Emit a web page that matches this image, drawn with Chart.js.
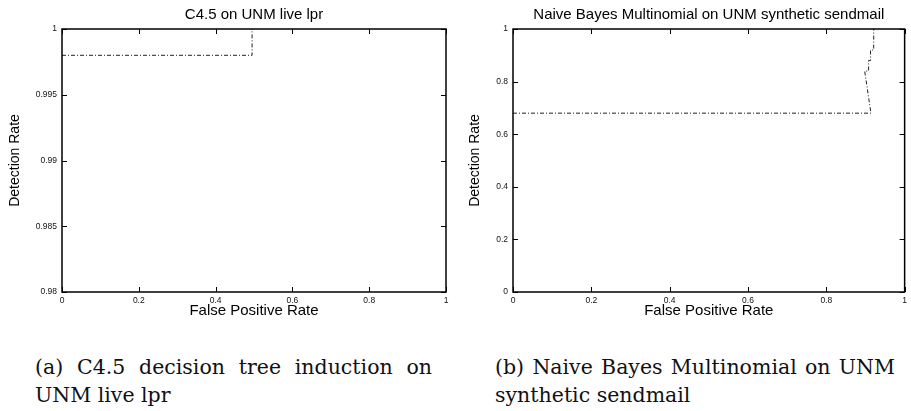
<!DOCTYPE html>
<html><head><meta charset="utf-8">
<script src="https://cdn.jsdelivr.net/npm/chart.js@4"></script>
<style>
html,body{margin:0;padding:0;background:#fff;width:911px;height:411px;overflow:hidden}
.c{position:absolute;top:0}
.cap{position:absolute;font-family:"DejaVu Serif",serif;font-size:20.5px;line-height:27.7px;color:#111;white-space:nowrap}
.j{text-align:justify;text-align-last:justify;white-space:normal}
</style></head><body>
<div class="c" style="left:0;width:455px;height:320px"><canvas id="a" width="455" height="320"></canvas></div>
<div class="c" style="left:455px;width:456px;height:320px"><canvas id="b" width="456" height="320"></canvas></div>
<div class="cap j" style="left:35px;top:354px;width:397px">(a) C4.5 decision tree induction on</div>
<div class="cap" style="left:35px;top:381.7px">UNM live lpr</div>
<div class="cap j" style="left:495px;top:354px;width:400px">(b) Naive Bayes Multinomial on UNM</div>
<div class="cap" style="left:495px;top:381.7px">synthetic sendmail</div>
<script>
// ---- data ----
const xTicks = [0, 0.2, 0.4, 0.6, 0.8, 1];
const xTickLabels = ['0', '0.2', '0.4', '0.6', '0.8', '1'];

const titleA = 'C4.5 on UNM live lpr';
const fprA = [0, 0.495, 0.495];
const tprA = [0.998, 0.998, 1.0];
const yTicksA = [0.98, 0.985, 0.99, 0.995, 1];
const yTickLabelsA = ['0.98', '0.985', '0.99', '0.995', '1'];

const titleB = 'Naive Bayes Multinomial on UNM synthetic sendmail';
const fprB = [0, 0.914, 0.898, 0.908, 0.908, 0.913, 0.913, 0.921, 0.921];
const tprB = [0.68, 0.68, 0.84, 0.84, 0.88, 0.88, 0.92, 0.92, 1.0];
const yTicksB = [0, 0.2, 0.4, 0.6, 0.8, 1];
const yTickLabelsB = ['0', '0.2', '0.4', '0.6', '0.8', '1'];

Chart.defaults.font.family = '"Liberation Sans", Arial, sans-serif';
Chart.defaults.color = '#000';

const frame = {
  id: 'frame',
  afterDatasetsDraw(chart, args, opts) {
    const {ctx, chartArea: a, scales: {x, y}} = chart;
    ctx.save();
    ctx.strokeStyle = '#000';
    ctx.lineWidth = 1;
    ctx.beginPath();
    x.ticks.forEach(t => {
      const p = Math.round(x.getPixelForValue(t.value)) + 0.5;
      ctx.moveTo(p, a.bottom); ctx.lineTo(p, a.bottom - 5);
      ctx.moveTo(p, a.top); ctx.lineTo(p, a.top + 5);
    });
    y.ticks.forEach(t => {
      const p = Math.round(y.getPixelForValue(t.value)) + 0.5;
      ctx.moveTo(a.left, p); ctx.lineTo(a.left + 5, p);
      ctx.moveTo(a.right, p); ctx.lineTo(a.right - 5, p);
    });
    ctx.stroke();
    ctx.lineWidth = 1.5;
    ctx.strokeRect(a.left, a.top, a.right - a.left, a.bottom - a.top);
    // plot title centred over the plot area
    ctx.fillStyle = '#000';
    ctx.font = '15px "Liberation Sans", Arial, sans-serif';
    ctx.textAlign = 'center';
    ctx.textBaseline = 'alphabetic';
    ctx.fillText(opts.text, (a.left + a.right) / 2, 18.5);
    ctx.restore();
  }
};

function make(id, title, xs, ys, yTicks, yLabels, yMin, yMax, yW, rightPad, yTitlePad) {
  new Chart(document.getElementById(id), {
    type: 'scatter',
    data: {
      datasets: [{
        data: xs.map((v, i) => ({x: v, y: ys[i]})),
        showLine: true,
        pointRadius: 0,
        borderColor: '#222',
        borderWidth: 1,
        borderDash: [4, 2, 1, 2]
      }]
    },
    options: {
      responsive: false,
      animation: false,
      layout: {padding: {left: 0, right: rightPad, top: 29, bottom: 0}},
      plugins: {
        legend: {display: false},
        tooltip: {enabled: false},
        title: {display: false},
        frame: {text: title}
      },
      scales: {
        x: {
          type: 'linear', min: 0, max: 1,
          afterBuildTicks: s => { s.ticks = xTicks.map(v => ({value: v})); },
          afterFit: s => { s.height = 28; },
          ticks: {callback: (v, i) => xTickLabels[i], font: {size: 8.5}, color: '#111',
            padding: 4, maxRotation: 0, autoSkip: false},
          grid: {display: false, drawTicks: false},
          border: {display: false},
          title: {display: true, text: 'False Positive Rate', color: '#000',
            font: {size: 15}, padding: {top: 0, bottom: 0}}
        },
        y: {
          type: 'linear', min: yMin, max: yMax,
          afterBuildTicks: s => { s.ticks = yTicks.map(v => ({value: v})); },
          afterFit: s => { s.width = yW; },
          ticks: {callback: (v, i) => yLabels[i], font: {size: 8.5}, color: '#111',
            padding: 5, autoSkip: false},
          grid: {display: false, drawTicks: false},
          border: {display: false},
          title: {display: true, text: 'Detection Rate', color: '#000',
            font: {size: 14}, padding: {top: yTitlePad, bottom: 0}}
        }
      }
    },
    plugins: [frame]
  });
}

make('a', titleA, fprA, tprA, yTicksA, yTickLabelsA, 0.98, 1, 62, 9, 6.5);
make('b', titleB, fprB, tprB, yTicksB, yTickLabelsB, 0, 1, 58, 4, 11.5);
</script>
</body></html>
